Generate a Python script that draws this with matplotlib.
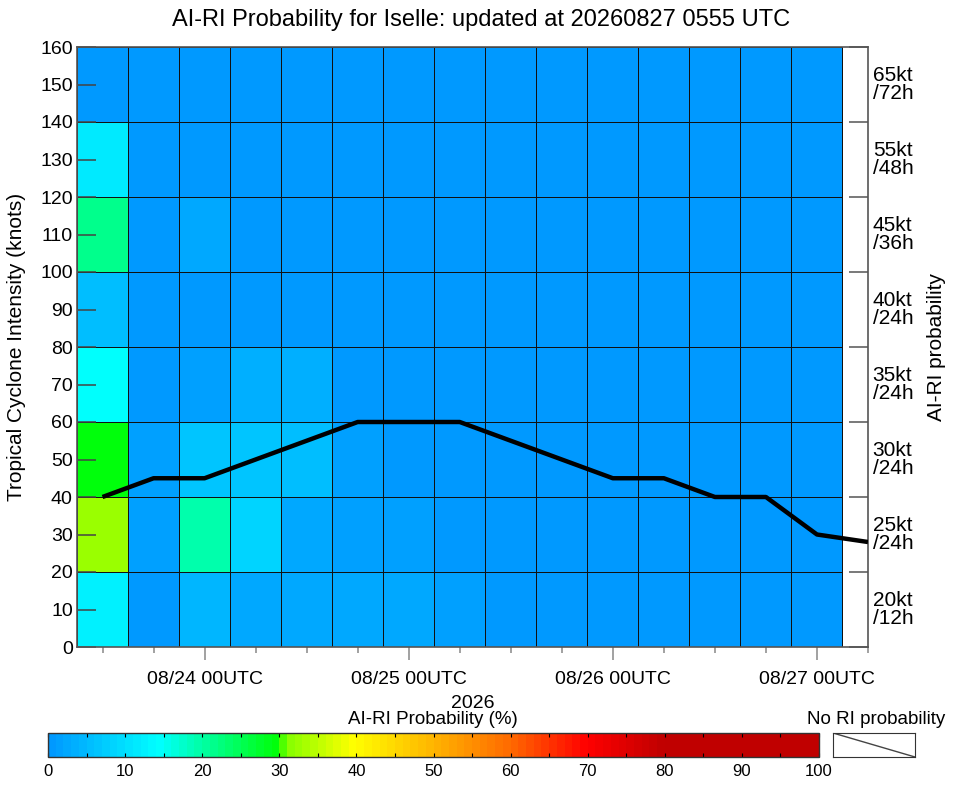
import numpy as np
import matplotlib
matplotlib.use("Agg")
import matplotlib.pyplot as plt
from matplotlib.colors import LinearSegmentedColormap, Normalize
from matplotlib.transforms import blended_transform_factory

plt.rcParams['font.family'] = ['Liberation Sans', 'DejaVu Sans']

# 6-hourly steps, step 0 = 08/23 12UTC
steps = list(range(16))
intensity = [40, 45, 45, 50, 55, 60, 60, 60, 55, 50, 45, 45, 40, 40, 30, 28]
date_ticks = [2, 6, 10, 14]
date_labels = ['08/24 00UTC', '08/25 00UTC', '08/26 00UTC', '08/27 00UTC']

# intensity bins (kt) and RI thresholds per bin
bins = [0, 20, 40, 60, 80, 100, 120, 140, 160]
ri_labels = ['20kt\n/12h', '25kt\n/24h', '30kt\n/24h', '35kt\n/24h',
             '40kt\n/24h', '45kt\n/36h', '55kt\n/48h', '65kt\n/72h']

# probability (%) per bin (rows, bottom->top) and 6h step (cols)
prob_0_20    = [12, 0.5, 4, 2.5, 2, 2, 2, 1, 0.5, 0.5, 0.5, 0.5, 0.5, 0.5, 0.5]
prob_20_40   = [32, 1, 19, 8.5, 2.5, 1.5, 1, 0.5, 0.5, 0.5, 0.5, 0.5, 0.5, 0.5, 0.5]
prob_40_60   = [29.5, 1, 6, 6, 5.5, 1, 0.5, 0.5, 0.5, 0.5, 0.5, 0.5, 0.5, 0.5, 0.5]
prob_60_80   = [14, 0.5, 1.5, 3, 3, 0.5, 0.5, 0.5, 0.5, 0.5, 0.5, 0.5, 0.5, 0.5, 0.5]
prob_80_100  = [5.5, 0.5, 0.5, 0.5, 0.5, 0.5, 0.5, 0.5, 0.5, 0.5, 0.5, 0.5, 0.5, 0.5, 0.5]
prob_100_120 = [21.5, 0.5, 2, 0.5, 0.5, 0.5, 0.5, 0.5, 0.5, 0.5, 0.5, 0.5, 0.5, 0.5, 0.5]
prob_120_140 = [11, 0.5, 0.5, 0.5, 0.5, 0.5, 0.5, 0.5, 0.5, 0.5, 0.5, 0.5, 0.5, 0.5, 0.5]
prob_140_160 = [0.5, 0.5, 0.5, 0.5, 0.5, 0.5, 0.5, 0.5, 0.5, 0.5, 0.5, 0.5, 0.5, 0.5, 0.5]

prob = np.array([prob_0_20, prob_20_40, prob_40_60, prob_60_80,
                 prob_80_100, prob_100_120, prob_120_140, prob_140_160])

cmap = LinearSegmentedColormap.from_list('airi', [
    (0.0, '#0099ff'), (0.14, '#00ffff'), (0.30, '#00ff00'),
    (0.305, '#80ff00'), (0.395, '#ffff00'), (0.50, '#ffb400'),
    (0.60, '#ff6a00'), (0.70, '#ff0000'), (0.80, '#c00000'),
    (1.0, '#c00000')], N=100)
norm = Normalize(0, 100)

fig = plt.figure(figsize=(9.63, 7.85), dpi=100)
ax = fig.add_axes([77/963, 1-647/785, 791/963, 600/785])

xedges = np.arange(-0.5, 15, 1)
mesh = ax.pcolormesh(xedges, bins, prob, cmap=cmap, norm=norm,
                     edgecolors='#111111', linewidth=0.65)
ax.plot(steps, intensity, color='black', lw=3.2, zorder=5,
        solid_capstyle='butt')

ax.set_xlim(-0.5, 15)
ax.set_ylim(0, 160)
ax.set_xticks(date_ticks, date_labels, fontsize=14)
ax.set_xticks([s for s in steps if s not in date_ticks], minor=True)
ax.tick_params(axis='x', which='major', direction='out', length=9, width=1.1,
               color='#888888', pad=8)
ax.tick_params(axis='x', which='minor', direction='out', length=4.5, width=1.1,
               color='#888888')
ax.set_yticks(np.arange(0, 161, 10))
ax.tick_params(axis='y', direction='in', length=14, width=1.1,
               color='#444444', labelsize=14, pad=3)
ax.set_xlabel('2026', fontsize=14, labelpad=5)
ax.set_ylabel('Tropical Cyclone Intensity (knots)', fontsize=15, labelpad=10)
for s in ax.spines.values():
    s.set_color('#555555')
    s.set_linewidth(1.2)

ay = ax.twinx()
ay.set_ylim(0, 160)
ay.set_yticks(bins)
ay.set_yticklabels([])
ay.tick_params(axis='y', direction='in', length=14, width=1.1, color='#555555')
ay.set_ylabel('AI-RI probability', fontsize=15, labelpad=39)
for s in ay.spines.values():
    s.set_visible(False)

tr = blended_transform_factory(ax.transAxes, ax.transData)
for lo, hi, lab in zip(bins[:-1], bins[1:], ri_labels):
    ax.text(1.006, (lo + hi) / 2, lab, transform=tr, ha='left', va='center',
            fontsize=15, linespacing=0.9)

fig.text(0.5, 1-20/785, 'AI-RI Probability for Iselle: updated at 20260827 0555 UTC',
         ha='center', va='center', fontsize=17)

# colour bar
cax = fig.add_axes([48/963, 1-757/785, 771/963, 24/785])
cb = fig.colorbar(mesh, cax=cax, orientation='horizontal')
cb.set_ticks(np.arange(0, 101, 10))
cb.ax.set_xticks(np.arange(0, 101, 5), minor=True)
cb.ax.tick_params(which='both', direction='in', length=3, width=0.8,
                  top=True, bottom=True, labelsize=12, pad=5)
cb.outline.set_edgecolor('#333333')
cb.outline.set_linewidth(1.0)
fig.text(433/963, 1-719/785, 'AI-RI Probability (%)', ha='center', va='center',
         fontsize=13.5)

# no-RI box
nax = fig.add_axes([833/963, 1-757/785, 82/963, 24/785])
nax.plot([0, 1], [1, 0], color='#444444', lw=1)
nax.set_xlim(0, 1)
nax.set_ylim(0, 1)
nax.set_xticks([])
nax.set_yticks([])
for s in nax.spines.values():
    s.set_color('#333333')
fig.text(876/963, 1-719/785, 'No RI probability', ha='center', va='center',
         fontsize=13.5)

fig.savefig('out.png', dpi=100)
